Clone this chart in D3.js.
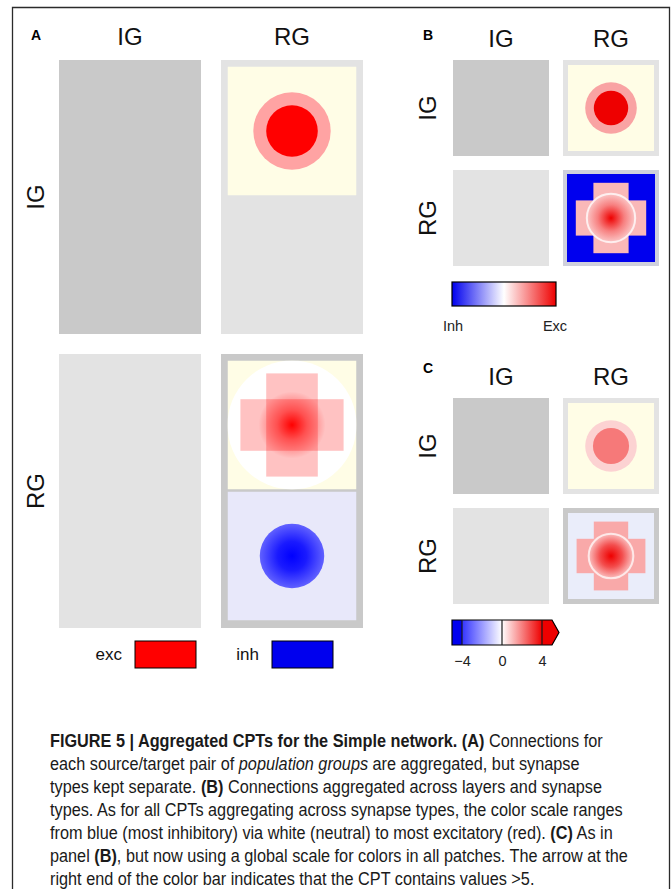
<!DOCTYPE html>
<html><head><meta charset="utf-8">
<script src="https://cdn.jsdelivr.net/npm/d3@7"></script>
<style>
body{margin:0;background:#fff;}
svg{display:block;font-family:"Liberation Sans",Arial,Helvetica,sans-serif;}
</style></head><body>
<svg id="fig" width="672" height="889"></svg>
<script>
// ---- data -------------------------------------------------------------
const groups = ["IG", "RG"];
const synapseTypes = ["exc", "inh"];
const panelNames = ["A", "B", "C"];

// mask geometry, in units of the patch half-width
const discCore = 0.40, discRim = 0.60;      // IG -> RG circular mask
const armHalf = 0.40, armLong = 0.80;       // RG -> RG rectangular masks
const gaussMask = 1.0, inhMask = 0.50, netRing = 0.55;

// A: synapse types kept apart, each normalised to 1
const aDiscCore = 1.0, aDiscRim = 0.36;
const aArm = 0.24, aGaussPeak = 1.0;
const aInhPeak = 1.0, aInhEdge = 0.62;
// B: net (exc - inh), normalised per patch
const bDiscCore = 1.0, bDiscRim = 0.36;
const bArm = 0.28, bNetPeak = 1.0, bNetEdge = 0.22, bOutside = -1.0;
// C: net, one global scale
const cDiscCore = 2.1, cDiscRim = 0.7;
const cArm = 1.35, cNetPeak = 5.6, cNetEdge = 1.0;
const cbTicks = [-4, 0, 4];
const cbDomain = [-5, 5];

const captionLines = [
  [["b", "FIGURE 5 | Aggregated CPTs for the Simple network. (A)"], ["r", " Connections for"]],
  [["r", "each source/target pair of "], ["i", "population groups"], ["r", " are aggregated, but synapse"]],
  [["r", "types kept separate. "], ["b", "(B)"], ["r", " Connections aggregated across layers and synapse"]],
  [["r", "types. As for all CPTs aggregating across synapse types, the color scale ranges"]],
  [["r", "from blue (most inhibitory) via white (neutral) to most excitatory (red). "], ["b", "(C)"], ["r", " As in"]],
  [["r", "panel "], ["b", "(B)"], ["r", ", but now using a global scale for colors in all patches. The arrow at the"]],
  [["r", "right end of the color bar indicates that the CPT contains values >5."]]
];

// ---- colour scales ----------------------------------------------------
const excScale = d3.scaleLinear().domain([0, 1]).range(["#ffffff", "#ff0000"]);
const inhScale = d3.scaleLinear().domain([0, 1]).range(["#ffffff", "#0000ff"]);
const netScale = d3.scaleLinear().domain([-1, 0, 1]).range(["#0000ee", "#ffffff", "#ee0000"]);
const globalScale = d3.scaleLinear().domain([-4, 0, 4]).range(["#3434ff", "#ffffff", "#ee0000"]).clamp(true);

const svg = d3.select("#fig");
const defs = svg.append("defs");
let uid = 0;

// outer frame
svg.append("path")
  .attr("d", "M12.5,889 V7.5 H669.5 V889")
  .attr("fill", "none").attr("stroke", "#2b2b2b").attr("stroke-width", 1.3);

// ---- patch drawing helpers -------------------------------------------
function radial(stops) {
  const id = "rg" + (uid++);
  const g = defs.append("radialGradient").attr("id", id);
  stops.forEach(s => g.append("stop").attr("offset", s[0]).attr("stop-color", s[1]).attr("stop-opacity", s[2] == null ? 1 : s[2]));
  return "url(#" + id + ")";
}

// draws one CPT patch into the square [x0,x0+s]x[y0,y0+s]
function patch(g, x0, y0, s, layers) {
  const u = d3.scaleLinear().domain([-1, 1]).range([x0, x0 + s]);
  const v = d3.scaleLinear().domain([-1, 1]).range([y0, y0 + s]);
  const k = s / 2;
  const cid = "cp" + (uid++);
  defs.append("clipPath").attr("id", cid)
    .append("rect").attr("x", x0).attr("y", y0).attr("width", s).attr("height", s);
  const pg = g.append("g").attr("clip-path", "url(#" + cid + ")");
  layers.forEach(L => {
    if (L.kind === "bg") {
      pg.append("rect").attr("x", x0).attr("y", y0).attr("width", s).attr("height", s).attr("fill", L.color);
    } else if (L.kind === "disc") {
      pg.append("circle").attr("cx", u(0)).attr("cy", v(0)).attr("r", L.r * k)
        .attr("fill", L.fill).attr("stroke", L.stroke || "none").attr("stroke-width", L.sw || 0)
        .attr("stroke-opacity", L.so == null ? 1 : L.so);
    } else if (L.kind === "arms") {
      const rects = [[-armHalf, -armLong, armHalf, armLong], [-armLong, -armHalf, armLong, armHalf]];
      pg.selectAll(null).data(rects).enter().append("rect")
        .attr("x", d => u(d[0])).attr("y", d => v(d[1]))
        .attr("width", d => u(d[2]) - u(d[0])).attr("height", d => v(d[3]) - v(d[1]))
        .attr("fill", L.color).attr("fill-opacity", L.opacity == null ? 1 : L.opacity);
    }
  });
}

// ---- one panel: grid of source/target patches --------------------------
function panel(cfg) {
  const g = svg.append("g");
  const x = d3.scaleBand().domain(groups).range(cfg.xr).paddingInner(cfg.padX);
  const y = d3.scaleBand().domain(groups).range(cfg.yr).paddingInner(cfg.padY);

  g.append("text").attr("x", cfg.labelX).attr("y", cfg.labelY)
    .attr("text-anchor", "middle").attr("font-weight", "bold").attr("font-size", 14)
    .attr("font-family", "'Liberation Sans',Arial,sans-serif").text(cfg.name);

  g.selectAll(".colh").data(groups).enter().append("text")
    .attr("x", d => x(d) + x.bandwidth() / 2).attr("y", cfg.headY)
    .attr("text-anchor", "middle").attr("font-size", 24).attr("fill", "#111").text(d => d);

  g.selectAll(".rowh").data(groups).enter().append("text")
    .attr("transform", d => `translate(${cfg.labelX + 8},${y(d) + y.bandwidth() / 2}) rotate(-90)`)
    .attr("text-anchor", "middle").attr("font-size", 24).attr("fill", "#111").text(d => d);

  groups.forEach(row => groups.forEach(col => {
    const c = cfg.cells[row + col];
    const cx = x(col), cy = y(row), w = x.bandwidth(), h = y.bandwidth();
    g.append("rect").attr("x", cx).attr("y", cy).attr("width", w).attr("height", h).attr("fill", c.frame);
    if (!c.patches) return;
    const ins = c.inset;
    const s = w - 2 * ins;
    c.patches.forEach((layers, i) => {
      if (layers) patch(g, cx + ins, cy + ins + i * (s + cfg.gap), s, layers);
    });
  }));
  return {x, y};
}

// ---- panel A ------------------------------------------------------------
const aExcDisc = [
  {kind: "bg", color: "#fffde6"},
  {kind: "disc", r: discRim, fill: excScale(aDiscRim)},
  {kind: "disc", r: discCore, fill: excScale(aDiscCore)}
];
const aExcCross = [
  {kind: "bg", color: "#fffde6"},
  {kind: "disc", r: gaussMask, fill: "#ffffff"},
  {kind: "arms", color: excScale(1), opacity: aArm},
  {kind: "disc", r: 0.52, fill: radial([[0, excScale(aGaussPeak), 1], [0.45, excScale(aGaussPeak), 0.45], [1, excScale(aGaussPeak), 0]])}
];
const aInhDisc = [
  {kind: "bg", color: "#e8e8fa"},
  {kind: "disc", r: inhMask, fill: radial([[0, inhScale(aInhPeak)], [0.45, inhScale(0.9)], [1, inhScale(aInhEdge)]])}
];
panel({
  name: "A", labelX: 36, labelY: 40, headY: 45,
  xr: [59, 363], yr: [60, 628], padX: 0.1235, padY: 0.068, gap: 2,
  cells: {
    IGIG: {frame: "#c9c9c9"},
    IGRG: {frame: "#e3e3e3", inset: 6.5, patches: [aExcDisc, null]},
    RGIG: {frame: "#e3e3e3"},
    RGRG: {frame: "#c9c9c9", inset: 6.5, patches: [aExcCross, aInhDisc]}
  }
});

// legend for A
const legA = svg.append("g");
const legItems = [{t: synapseTypes[0], c: excScale(1), x: 135}, {t: synapseTypes[1], c: "#0000ee", x: 272}];
legA.selectAll("rect").data(legItems).enter().append("rect")
  .attr("x", d => d.x).attr("y", 641).attr("width", 61).attr("height", 27)
  .attr("fill", d => d.c).attr("stroke", "#000").attr("stroke-width", 1);
legA.selectAll("text").data(legItems).enter().append("text")
  .attr("x", d => d.x - 13).attr("y", 660).attr("text-anchor", "end")
  .attr("font-size", 17).attr("fill", "#111").text(d => d.t);

// ---- panel B ------------------------------------------------------------
const bExcDisc = [
  {kind: "bg", color: "#fffde6"},
  {kind: "disc", r: discRim, fill: netScale(bDiscRim)},
  {kind: "disc", r: discCore, fill: netScale(bDiscCore)}
];
const bNet = [
  {kind: "bg", color: netScale(bOutside)},
  {kind: "arms", color: netScale(bArm)},
  {kind: "disc", r: netRing, fill: radial([[0, netScale(bNetPeak)], [0.55, netScale(0.5)], [1, netScale(bNetEdge)]]),
   stroke: "#ffffff", sw: 2, so: 0.75}
];
panel({
  name: "B", labelX: 428, labelY: 40, headY: 47,
  xr: [453, 659], yr: [60, 266], padX: 0.1273, padY: 0.1273, gap: 0,
  cells: {
    IGIG: {frame: "#c9c9c9"},
    IGRG: {frame: "#e3e3e3", inset: 5, patches: [bExcDisc]},
    RGIG: {frame: "#e3e3e3"},
    RGRG: {frame: "#cfd0dc", inset: 4, patches: [bNet]}
  }
});

// colour bar B
const cbB = svg.append("g");
const gB = defs.append("linearGradient").attr("id", "cbB");
[-1, -0.5, 0, 0.5, 1].forEach(vv => gB.append("stop").attr("offset", (vv + 1) / 2).attr("stop-color", netScale(vv)));
cbB.append("rect").attr("x", 452).attr("y", 282).attr("width", 104).attr("height", 24)
  .attr("fill", "url(#cbB)").attr("stroke", "#000").attr("stroke-width", 1.2);
cbB.selectAll("text").data([["Inh", 453], ["Exc", 555]]).enter().append("text")
  .attr("x", d => d[1]).attr("y", 331).attr("text-anchor", "middle")
  .attr("font-size", 14.5).attr("fill", "#222").text(d => d[0]);

// ---- panel C ------------------------------------------------------------
const cExcDisc = [
  {kind: "bg", color: "#fffde6"},
  {kind: "disc", r: discRim, fill: globalScale(cDiscRim)},
  {kind: "disc", r: discCore + 0.02, fill: globalScale(cDiscCore)}
];
const cNet = [
  {kind: "bg", color: "#eaedfa"},
  {kind: "arms", color: globalScale(cArm)},
  {kind: "disc", r: netRing - 0.03, fill: radial([[0, globalScale(cNetPeak)], [0.5, globalScale(2.8)], [1, globalScale(cNetEdge)]]),
   stroke: "#ffffff", sw: 2, so: 0.7}
];
panel({
  name: "C", labelX: 428, labelY: 373, headY: 385,
  xr: [453, 659], yr: [398, 604], padX: 0.1273, padY: 0.1273, gap: 0,
  cells: {
    IGIG: {frame: "#c9c9c9"},
    IGRG: {frame: "#e3e3e3", inset: 5, patches: [cExcDisc]},
    RGIG: {frame: "#e3e3e3"},
    RGRG: {frame: "#c9c9c9", inset: 5, patches: [cNet]}
  }
});

// colour bar C, global scale with overflow arrow
const cx = d3.scaleLinear().domain(cbDomain).range([452, 552]);
const cbC = svg.append("g");
const gC = defs.append("linearGradient").attr("id", "cbC").attr("gradientUnits", "userSpaceOnUse")
  .attr("x1", cx(cbDomain[0])).attr("x2", cx(cbDomain[1]));
const stopVals = [-5, -4, -4, -2, 0, 2, 4, 4, 5];
stopVals.forEach((vv, i) => {
  const edge = (i === 0 || i === 1) ? "#0000ee" : (i >= stopVals.length - 2 ? "#ee0000" : globalScale(vv));
  gC.append("stop").attr("offset", (vv - cbDomain[0]) / (cbDomain[1] - cbDomain[0])).attr("stop-color", edge);
});
const barY = 620, barH = 25;
const barPath = `M${cx(-5)},${barY} H${cx(5)} L${cx(5) + 7},${barY + barH / 2} L${cx(5)},${barY + barH} H${cx(-5)} Z`;
cbC.append("path").attr("d", barPath).attr("fill", "url(#cbC)");
cbC.append("path")
  .attr("d", `M${cx(5)},${barY} L${cx(5) + 7},${barY + barH / 2} L${cx(5)},${barY + barH} Z`)
  .attr("fill", "#ee0000");
cbC.append("path").attr("d", barPath).attr("fill", "none").attr("stroke", "#000").attr("stroke-width", 1.2);
cbC.selectAll("line").data(cbTicks).enter().append("line")
  .attr("x1", d => cx(d)).attr("x2", d => cx(d)).attr("y1", barY).attr("y2", barY + barH)
  .attr("stroke", "#1a1a1a").attr("stroke-width", 1.4).attr("stroke-opacity", 0.85);
const axC = cbC.append("g").attr("transform", `translate(0,${barY + barH})`)
  .call(d3.axisBottom(cx).tickValues(cbTicks).tickSize(0).tickPadding(11).tickFormat(d => d < 0 ? "\u2212" + Math.abs(d) : d));
axC.select(".domain").remove();
axC.selectAll("text").attr("font-size", 14.5).attr("fill", "#222").attr("font-family", "'Liberation Sans',Arial,sans-serif");

// ---- caption (slightly condensed face) ----------------------------------
const cap = svg.append("text").attr("font-size", 17.5).attr("fill", "#1a1a1a")
  .attr("transform", "translate(50,0) scale(0.93,1)");
captionLines.forEach((line, i) => {
  line.forEach((seg, j) => {
    const t = cap.append("tspan").text(seg[1]);
    if (j === 0) t.attr("x", 0).attr("y", 747 + i * 23);
    if (seg[0] === "b") t.attr("font-weight", "bold");
    if (seg[0] === "i") t.attr("font-style", "italic");
  });
});
</script>
</body></html>
